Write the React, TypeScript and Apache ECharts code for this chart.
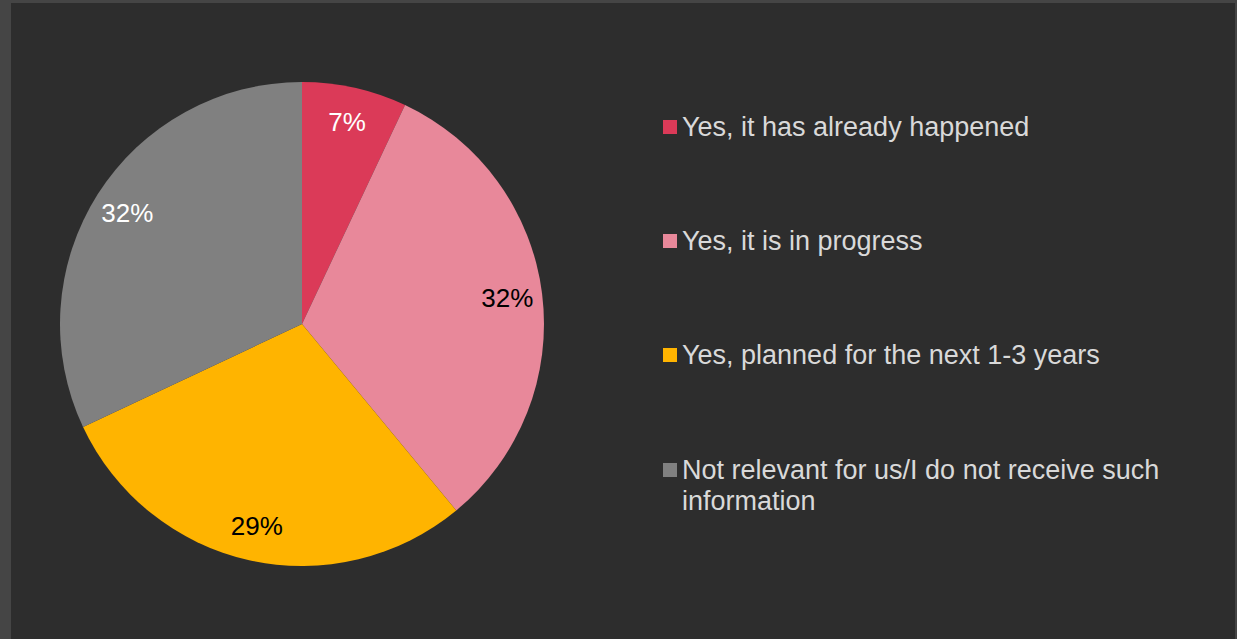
import React, { useEffect, useRef } from "react";
import * as echarts from "echarts";

const categories = [
  "Yes, it has already happened",
  "Yes, it is in progress",
  "Yes, planned for the next 1-3 years",
  "Not relevant for us/I do not receive such information",
];
const legendLabels = [
  "Yes, it has already happened",
  "Yes, it is in progress",
  "Yes, planned for the next 1-3 years",
  "\nNot relevant for us/I do not receive such\ninformation",
];
const values = [7, 32, 29, 32];
const sliceColors = ["#db3a58", "#e8889a", "#ffb400", "#808080"];
const labelColors = ["#ffffff", "#000000", "#000000", "#ffffff"];

export default function App() {
  const ref = useRef<HTMLDivElement>(null);
  useEffect(() => {
    document.body.style.margin = "0";
    const chart = echarts.init(ref.current!, undefined, { renderer: "svg" });
    const font = "Arial";
    const labelFor = (name: string) => legendLabels[categories.indexOf(name)] ?? name;
    chart.setOption({
      animation: false,
      backgroundColor: "#454545",
      color: sliceColors,
      graphic: [
        {
          type: "rect",
          z: -10,
          silent: true,
          shape: { x: 11, y: 3, width: 1224, height: 636 },
          style: { fill: "#2d2d2d" },
        },
      ],
      legend: [
        {
          orient: "vertical",
          left: 663,
          top: 111.5,
          padding: 0,
          itemWidth: 14,
          itemHeight: 14,
          itemGap: 83,
          icon: "rect",
          selectedMode: false,
          data: categories.slice(0, 3),
          formatter: labelFor,
          textStyle: { color: "#d9d9d9", fontSize: 27, fontFamily: font, lineHeight: 31 },
        },
        {
          orient: "vertical",
          left: 663,
          top: 423.5,
          padding: 0,
          itemWidth: 14,
          itemHeight: 14,
          icon: "rect",
          selectedMode: false,
          data: categories.slice(3),
          formatter: labelFor,
          textStyle: { color: "#d9d9d9", fontSize: 27, fontFamily: font, lineHeight: 31 },
        },
      ],
      series: [
        {
          type: "pie",
          center: [302, 324],
          radius: [0, 242],
          startAngle: 90,
          clockwise: true,
          silent: true,
          label: { show: false },
          labelLine: { show: false },
          itemStyle: { borderWidth: 0 },
          data: categories.map((name, i) => ({ name, value: values[i] })),
        },
        {
          type: "pie",
          center: [302, 324],
          radius: [166, 242],
          startAngle: 90,
          clockwise: true,
          silent: true,
          legendHoverLink: false,
          itemStyle: { color: "rgba(0,0,0,0)", borderWidth: 0 },
          labelLine: { show: false },
          data: categories.map((name, i) => ({
            name,
            value: values[i],
            label: {
              show: true,
              position: "inside",
              formatter: "{c}%",
              color: labelColors[i],
              fontSize: 26,
              fontFamily: font,
            },
          })),
        },
      ],
    });
    return () => chart.dispose();
  }, []);
  return <div ref={ref} style={{ width: 1237, height: 639 }} />;
}
